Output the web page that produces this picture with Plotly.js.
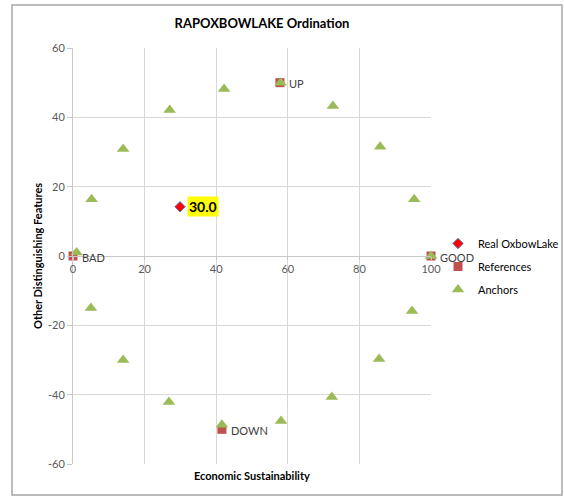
<!DOCTYPE html>
<html>
<head>
<meta charset="utf-8">
<script src="https://cdn.plot.ly/plotly-3.0.1.min.js"></script>
<style>
html,body{margin:0;padding:0;background:#fff;}
#chart{width:564px;height:497px;}
</style>
</head>
<body>
<div id="chart"></div>
<script>
// ---- data ----
var realX = [29.9];
var realY = [14.2];
var realLabel = ["30.0"];

var refX = [0, 100, 57.8, 41.6];
var refY = [0, 0, 50, -50];
var refLabels = ["BAD", "GOOD", "UP", "DOWN"];

var anchorX = [1, 5.2, 14, 27, 42.2, 58, 72.6, 85.8, 95.3, 100, 94.7, 85.5, 72.3, 58.1, 41.6, 26.8, 14, 5];
var anchorY = [1, 16.4, 30.9, 42.1, 48.2, 50, 43.3, 31.5, 16.4, 0, -15.9, -29.7, -40.7, -47.6, -48.7, -42.1, -30, -15];

var xTicks = [0, 20, 40, 60, 80, 100];
var yTicks = [-60, -40, -20, 0, 20, 40, 60];

var FONT = "Lato, 'Open Sans', sans-serif";

var traces = [
  {
    x: refX, y: refY, name: "References",
    type: "scatter", mode: "markers",
    marker: {symbol: "square", size: 9, color: "#C0504D"},
    cliponaxis: false, legendrank: 2, legendgroup: "b"
  },
  {
    x: anchorX, y: anchorY, name: "Anchors",
    type: "scatter", mode: "markers",
    marker: {symbol: "triangle-up", size: 11, color: "#9BBB59"},
    cliponaxis: false, legendrank: 3, legendgroup: "c"
  },
  {
    x: realX, y: realY, name: "Real OxbowLake",
    type: "scatter", mode: "markers",
    marker: {symbol: "diamond", size: 8, color: "#FF0000", line: {color: "#4F81BD", width: 1}},
    cliponaxis: false, legendrank: 1, legendgroup: "a"
  }
];

var annotations = [
  {
    xref: "x", yref: "y", x: realX[0], y: realY[0], text: "<b>" + realLabel[0] + "</b>",
    showarrow: false, xanchor: "left", xshift: 7,
    bgcolor: "#FFFF00", borderpad: 1,
    font: {family: FONT, size: 14, color: "#000000"}
  },
  {
    xref: "paper", yref: "paper", x: (252-73)/358, y: (464-475)/416,
    text: "<b>Economic Sustainability</b>", showarrow: false,
    xanchor: "center", yanchor: "middle",
    font: {family: FONT, size: 11, color: "#000000"}
  },
  {
    xref: "paper", yref: "paper", x: (37-73)/358, y: (464-256)/416,
    text: "<b>Other Distinguishing Features</b>", showarrow: false, textangle: -90,
    xanchor: "center", yanchor: "middle",
    font: {family: FONT, size: 11, color: "#000000"}
  }
];
refLabels.forEach(function (lab, i) {
  annotations.push({
    xref: "x", yref: "y", x: refX[i], y: refY[i], text: lab,
    showarrow: false, xanchor: "left", yanchor: "middle", xshift: 7, yshift: -1,
    font: {family: FONT, size: 11, color: "#404040"}
  });
});

var layout = {
  width: 564, height: 497,
  margin: {l: 73, r: 133, t: 48, b: 33},
  paper_bgcolor: "#ffffff", plot_bgcolor: "#ffffff",
  font: {family: FONT, size: 11, color: "#595959"},
  showlegend: true,
  title: {
    text: "<b>RAPOXBOWLAKE Ordination</b>",
    font: {family: FONT, size: 13, color: "#000000"},
    xref: "container", x: 262/564, xanchor: "center",
    yref: "container", y: 1 - 23/497, yanchor: "middle"
  },
  xaxis: {
    range: [0, 100], tickvals: xTicks, ticktext: xTicks.map(String),
    anchor: "free", position: 0.5,
    showgrid: true, gridcolor: "#d9d9d9", gridwidth: 1,
    showline: true, linecolor: "#c8c8c8", linewidth: 1,
    zeroline: false,
    ticks: "outside", ticklen: 3, tickcolor: "#c8c8c8",
    tickfont: {family: FONT, size: 11, color: "#595959"},
    fixedrange: true
  },
  yaxis: {
    range: [-60, 60], tickvals: yTicks, ticktext: yTicks.map(String),
    showgrid: true, gridcolor: "#d9d9d9", gridwidth: 1,
    showline: true, linecolor: "#c8c8c8", linewidth: 1,
    zeroline: false,
    ticks: "outside", ticklen: 5, tickcolor: "#c8c8c8",
    tickfont: {family: FONT, size: 11, color: "#595959"},
    fixedrange: true
  },
  legend: {
    xref: "container", yref: "container",
    x: 438/564, y: 1 - 229/497, xanchor: "left", yanchor: "top",
    font: {family: FONT, size: 11, color: "#000000"},
    bgcolor: "rgba(0,0,0,0)", itemwidth: 30,
    traceorder: "grouped", tracegroupgap: 4
  },
  annotations: annotations,
  shapes: [
    {
      type: "rect", xref: "paper", yref: "paper",
      x0: (12-73)/358, x1: (562-73)/358, y0: (464-495)/416, y1: (464-5)/416,
      line: {color: "#a6a6a6", width: 1.5}, fillcolor: "rgba(0,0,0,0)", layer: "below"
    }
  ]
};

Plotly.newPlot("chart", traces, layout, {displayModeBar: false, staticPlot: true});
</script>
</body>
</html>
